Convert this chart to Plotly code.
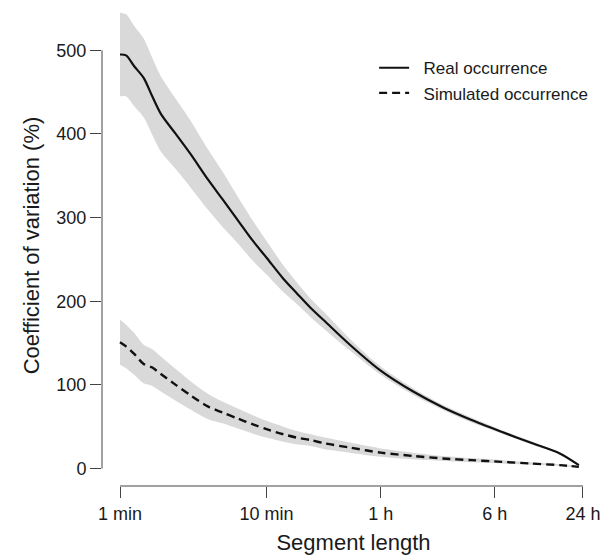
import plotly.graph_objects as go

# Segment length in minutes (log-spaced)
segment_min = [1, 1.1, 1.25, 1.45, 1.65, 1.9, 2.4, 3, 4, 5, 6.3, 8, 10, 13, 16, 20,
               25, 37, 60, 100, 160, 250, 400, 630, 1000, 1350]

# Coefficient of variation (%) for the real occurrence, with its envelope
real_cv = [495, 494, 481, 467, 446, 424, 400, 377, 345, 322, 298, 273, 252, 227, 210, 192,
           176, 148, 117, 92, 73, 58, 44, 31, 18, 4]
real_upper = [545, 543, 529, 514, 492, 469, 442, 417, 381, 355, 326, 297, 272, 243, 223, 203,
              186, 155, 122, 96, 76, 61, 46, 33, 19, 5]
real_lower = [445, 445, 433, 420, 400, 379, 358, 337, 309, 289, 270, 249, 232, 211, 197, 181,
              166, 141, 112, 88, 70, 55, 42, 29, 17, 3]

# Coefficient of variation (%) for the simulated occurrence, with its envelope
sim_cv = [151, 146, 137, 125, 121, 113, 100, 88, 74, 67, 60, 53, 47, 41, 37, 34,
          30, 25, 19, 15, 12, 10, 8, 6, 4, 2]
sim_upper = [178, 172, 162, 148, 143, 134, 119, 105, 89, 80, 72, 64, 57, 50, 45, 41,
             37, 31, 24, 19, 15, 12.5, 10, 7.5, 5, 3]
sim_lower = [124, 120, 112, 102, 99, 92, 81, 71, 59, 54, 48, 42, 37, 32, 29, 27,
             23, 19, 14, 11, 9, 7.5, 6, 4.5, 3, 1]

tick_vals = [1, 10, 60, 360, 1440]
tick_text = ["1 min", "10 min", "1 h", "6 h", "24 h"]
y_ticks = [0, 100, 200, 300, 400, 500]

BAND = "#d9d9d9"
INK = "#111111"
TEXT = "#1a1a1a"
AXIS = "#444444"
FONT = "Liberation Sans, Arial, Helvetica, sans-serif"
PAD = "\u00a0\u00a0"  # extra gap between legend key and label

fig = go.Figure()


def add_band(lower, upper):
    fig.add_trace(go.Scatter(x=segment_min, y=lower, mode="lines",
                             line=dict(width=0, color=BAND, shape="spline", smoothing=0.8),
                             showlegend=False, hoverinfo="skip"))
    fig.add_trace(go.Scatter(x=segment_min, y=upper, mode="lines", fill="tonexty",
                             fillcolor=BAND,
                             line=dict(width=0, color=BAND, shape="spline", smoothing=0.8),
                             showlegend=False, hoverinfo="skip"))


add_band(real_lower, real_upper)
add_band(sim_lower, sim_upper)

fig.add_trace(go.Scatter(x=segment_min, y=real_cv, mode="lines", name=PAD + "Real occurrence",
                         line=dict(color=INK, width=2.2, shape="spline", smoothing=0.8)))
fig.add_trace(go.Scatter(x=segment_min, y=sim_cv, mode="lines",
                         name=PAD + "Simulated occurrence",
                         line=dict(color=INK, width=2.4, dash="8px,5px",
                                   shape="spline", smoothing=0.8)))

# Detached axis lines spanning only first to last tick
fig.add_shape(type="line", xref="x", yref="paper", x0=1, x1=1440, y0=0, y1=0,
              line=dict(color=AXIS, width=1))
fig.add_shape(type="line", xref="paper", yref="y", x0=0, x1=0, y0=0, y1=500,
              line=dict(color=AXIS, width=1))

fig.update_layout(
    width=614, height=555,
    margin=dict(l=102, r=9, t=5, b=69),
    paper_bgcolor="white", plot_bgcolor="white",
    font=dict(family=FONT, size=18, color=TEXT),
    xaxis=dict(type="log", range=[-0.1228, 3.3085], tickvals=tick_vals, ticktext=tick_text,
               ticks="outside", ticklen=11, tickwidth=1, tickcolor=AXIS,
               showline=False, showgrid=False, zeroline=False,
               title=dict(text="Segment length", standoff=12)),
    yaxis=dict(range=[-20.9, 554.2], tickvals=y_ticks, ticks="outside", ticklen=11,
               tickwidth=1, tickcolor=AXIS, showline=False, showgrid=False, zeroline=False,
               title=dict(text="Coefficient of variation (%)", standoff=10)),
    legend=dict(x=0.541, y=0.906, xanchor="left", yanchor="top", bgcolor="rgba(0,0,0,0)",
                font=dict(size=17, color=TEXT), itemwidth=30, tracegroupgap=0,
                traceorder="normal"),
    showlegend=True,
)

fig.write_html("out.html")
